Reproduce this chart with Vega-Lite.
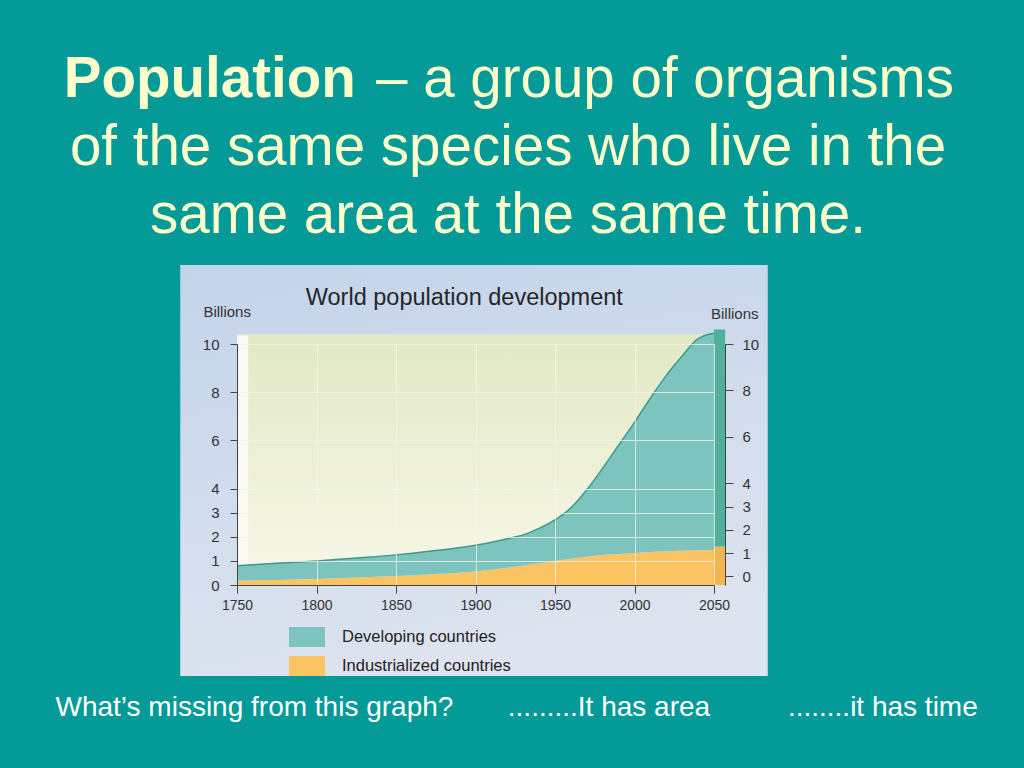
{
  "$schema": "https://vega.github.io/schema/vega-lite/v6.json",
  "autosize": "none",
  "width": 477,
  "height": 241,
  "padding": {"left": 237, "top": 344, "right": 310, "bottom": 183},
  "background": "#039a98",
  "config": {"view": {"stroke": null}, "font": "Liberation Sans"},
  "title": {
    "text": "Population\u00a0\u00a0\u00a0\u00a0\u00a0\u00a0\u00a0\u00a0\u00a0\u00a0\u00a0\u00a0\u00a0\u00a0\u00a0\u00a0\u00a0\u00a0\u00a0\u00a0\u00a0\u00a0\u00a0\u00a0\u00a0\u00a0\u00a0\u00a0\u00a0\u00a0\u00a0\u00a0\u00a0\u00a0\u00a0\u00a0\u00a0\u00a0\u200b",
    "subtitle": [
      "\u200b\u00a0\u00a0\u00a0\u00a0\u00a0\u00a0\u00a0\u00a0\u00a0\u00a0\u00a0\u00a0\u00a0\u00a0\u00a0\u00a0\u00a0\u00a0\u00a0\u00a0\u2013 a group of organisms",
      "of the same species who live in the",
      "same area at the same time."
    ],
    "anchor": "middle",
    "frame": "group",
    "orient": "top",
    "dx": 32.5,
    "offset": 20,
    "font": "Liberation Sans",
    "fontSize": 56.5,
    "fontWeight": "bold",
    "color": "#FFFFCC",
    "subtitleFont": "Liberation Sans",
    "subtitleFontSize": 56.5,
    "subtitleFontWeight": "normal",
    "subtitleColor": "#FFFFCC",
    "subtitleLineHeight": 68,
    "subtitlePadding": -56.5
  },
  "resolve": {"scale": {"x": "independent", "y": "independent"}},
  "layer": [
    {
      "data": {"values": [{"part": "frame"}]},
      "mark": {
        "type": "rect",
        "color": {"gradient": "linear", "x1": 0, "y1": 0, "x2": 0.3, "y2": 1,
          "stops": [{"offset": 0, "color": "#C3D4EA"}, {"offset": 1, "color": "#DDE3EF"}]}
      },
      "encoding": {
        "x": {
          "datum": 1714.3, "type": "quantitative",
          "scale": {"domain": [1750, 2050], "nice": false, "zero": false},
          "axis": {
            "orient": "top", "labels": false, "ticks": false, "domain": false, "grid": false,
            "title": "World population development",
            "titleX": 226.8, "titleY": -39.5, "titleAlign": "center", "titleBaseline": "alphabetic",
            "titleFont": "Liberation Sans", "titleFontSize": 23.5, "titleFontWeight": "normal",
            "titleColor": "#262626", "zindex": 1
          }
        },
        "x2": {"datum": 2083.8},
        "y": {
          "datum": 13.4, "type": "quantitative",
          "scale": {"domain": [-0.37, 10], "nice": false, "zero": false},
          "axis": {
            "orient": "right", "values": [0, 1, 2, 3, 4, 6, 8, 10], "tickCount": 20, "format": "d", "offset": 11,
            "tickSize": 8, "tickColor": "#444444", "domainColor": "#444444",
            "labelPadding": 9, "labelFont": "Liberation Sans", "labelFontSize": 15, "labelColor": "#333333",
            "labelOverlap": false, "grid": false,
            "title": "Billions", "titleAngle": 0, "titleX": 9.3, "titleY": -26,
            "titleAlign": "center", "titleBaseline": "alphabetic",
            "titleFont": "Liberation Sans", "titleFontSize": 15, "titleFontWeight": "normal",
            "titleColor": "#333333", "zindex": 1
          }
        },
        "y2": {"datum": -4.29}
      }
    },
    {
      "data": {"values": [
        {"year": 1750, "industrialized": 0.18, "total": 0.80},
        {"year": 1775, "industrialized": 0.21, "total": 0.90},
        {"year": 1800, "industrialized": 0.25, "total": 1.00},
        {"year": 1825, "industrialized": 0.31, "total": 1.12},
        {"year": 1850, "industrialized": 0.37, "total": 1.25},
        {"year": 1875, "industrialized": 0.46, "total": 1.43},
        {"year": 1900, "industrialized": 0.56, "total": 1.65},
        {"year": 1920, "industrialized": 0.72, "total": 1.92},
        {"year": 1930, "industrialized": 0.80, "total": 2.08},
        {"year": 1940, "industrialized": 0.90, "total": 2.35},
        {"year": 1950, "industrialized": 1.00, "total": 2.70},
        {"year": 1960, "industrialized": 1.09, "total": 3.20},
        {"year": 1970, "industrialized": 1.17, "total": 3.95},
        {"year": 1980, "industrialized": 1.24, "total": 4.85},
        {"year": 1990, "industrialized": 1.29, "total": 5.80},
        {"year": 2000, "industrialized": 1.33, "total": 6.75},
        {"year": 2010, "industrialized": 1.37, "total": 7.75},
        {"year": 2020, "industrialized": 1.40, "total": 8.70},
        {"year": 2030, "industrialized": 1.42, "total": 9.50},
        {"year": 2040, "industrialized": 1.44, "total": 10.22},
        {"year": 2050, "industrialized": 1.45, "total": 10.45}
      ]},
      "layer": [
        {
          "data": {"values": [{"part": "wall"}]},
          "mark": {
            "type": "rect",
            "color": {"gradient": "linear", "x1": 0, "y1": 0, "x2": 0, "y2": 1,
              "stops": [{"offset": 0, "color": "#E1E9C4"}, {"offset": 1, "color": "#F8F7E8"}]}
          },
          "encoding": {
            "x": {
              "datum": 1750, "type": "quantitative",
              "scale": {"domain": [1750, 2050], "nice": false, "zero": false},
              "axis": {
                "orient": "bottom", "values": [1750, 1800, 1850, 1900, 1950, 2000, 2050], "tickCount": 20, "format": "d",
                "labelFlush": false, "labelOverlap": false,
                "labelFont": "Liberation Sans", "labelFontSize": 14, "labelColor": "#333333", "labelPadding": 5,
                "tickSize": 8, "tickColor": "#444444", "domainColor": "#444444",
                "grid": true, "gridColor": "#F4F6EA", "gridOpacity": 0.75,
                "title": "What\u2019s missing from this graph?\u00a0\u00a0\u00a0\u00a0\u00a0\u00a0\u00a0.........It has area\u00a0\u00a0\u00a0\u00a0\u00a0\u00a0\u00a0\u00a0\u00a0\u00a0........it has time",
                "titleX": -182, "titleY": 130, "titleAlign": "left", "titleBaseline": "alphabetic",
                "titleFont": "Liberation Sans", "titleFontSize": 28, "titleFontWeight": "normal",
                "titleColor": "#FFFFFF", "zindex": 1
              }
            },
            "x2": {"datum": 2050},
            "y": {
              "datum": 0, "type": "quantitative",
              "scale": {"domain": [0, 10], "nice": false, "zero": false},
              "axis": {
                "orient": "left", "values": [0, 1, 2, 3, 4, 6, 8, 10], "tickCount": 20, "format": "d",
                "labelFont": "Liberation Sans", "labelFontSize": 15, "labelColor": "#333333", "labelPadding": 11,
                "labelOverlap": false,
                "tickSize": 7, "tickColor": "#444444", "domainColor": "#444444",
                "grid": true, "gridColor": "#F4F6EA", "gridOpacity": 0.75,
                "title": "Billions", "titleAngle": 0, "titleX": -10.3, "titleY": -27.3,
                "titleAlign": "center", "titleBaseline": "alphabetic",
                "titleFont": "Liberation Sans", "titleFontSize": 15, "titleFontWeight": "normal",
                "titleColor": "#333333", "zindex": 1
              }
            },
            "y2": {"datum": 10.4}
          }
        },
        {
          "data": {"values": [{"part": "left wall"}]},
          "mark": {"type": "rect", "color": "#FAFAF2"},
          "encoding": {
            "x": {"datum": 1750, "type": "quantitative"},
            "x2": {"datum": 1757},
            "y": {"datum": 0.5, "type": "quantitative"},
            "y2": {"datum": 10.35}
          }
        },
        {
          "mark": {"type": "area", "interpolate": "monotone", "opacity": 1},
          "encoding": {
            "x": {"field": "year", "type": "quantitative"},
            "y": {"field": "industrialized", "type": "quantitative"},
            "color": {
              "datum": "Industrialized countries", "type": "nominal",
              "scale": {"domain": ["Developing countries", "Industrialized countries"], "range": ["#7DC4BF", "#FBC463"]},
              "legend": {
                "orient": "none", "legendX": 52, "legendY": 275, "direction": "vertical", "title": null,
                "symbolType": "M-1,-0.56H1V0.56H-1Z", "symbolSize": 1296, "symbolStrokeWidth": 0, "symbolOpacity": 1,
                "labelFont": "Liberation Sans", "labelFontSize": 16.5, "labelColor": "#222222", "labelLimit": 400,
                "labelOffset": 17, "rowPadding": -7
              }
            }
          }
        },
        {
          "mark": {"type": "area", "interpolate": "monotone", "opacity": 1},
          "encoding": {
            "x": {"field": "year", "type": "quantitative"},
            "y": {"field": "total", "type": "quantitative"},
            "y2": {"field": "industrialized"},
            "color": {"datum": "Developing countries", "type": "nominal"}
          }
        },
        {
          "mark": {"type": "line", "interpolate": "monotone", "color": "#3A9A8E", "strokeWidth": 1.5},
          "encoding": {
            "x": {"field": "year", "type": "quantitative"},
            "y": {"field": "total", "type": "quantitative"}
          }
        },
        {
          "data": {"values": [{"part": "side industrialized"}]},
          "mark": {"type": "rect", "color": "#F2B650"},
          "encoding": {
            "x": {"datum": 2050, "type": "quantitative"},
            "x2": {"datum": 2057},
            "y": {"datum": 0, "type": "quantitative"},
            "y2": {"datum": 1.6}
          }
        },
        {
          "data": {"values": [{"part": "side developing"}]},
          "mark": {"type": "rect", "color": "#52AF9B"},
          "encoding": {
            "x": {"datum": 2050, "type": "quantitative"},
            "x2": {"datum": 2057},
            "y": {"datum": 1.6, "type": "quantitative"},
            "y2": {"datum": 10.6}
          }
        }
      ]
    }
  ]
}
